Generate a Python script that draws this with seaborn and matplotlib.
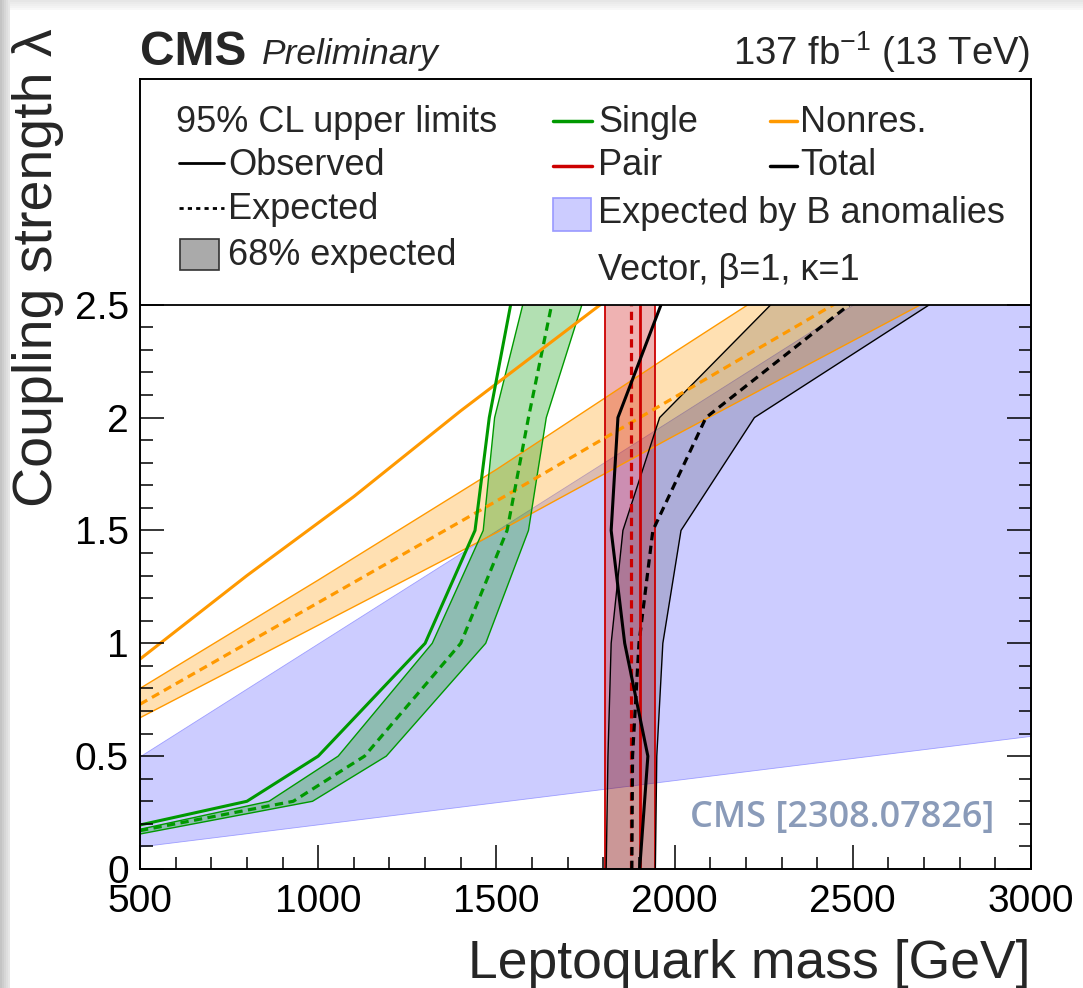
import numpy as np
import matplotlib
matplotlib.use("Agg")
import matplotlib.pyplot as plt
import seaborn as sns
from matplotlib.lines import Line2D
from matplotlib.patches import Rectangle
from matplotlib.ticker import MultipleLocator, FuncFormatter

# ---------------- data ----------------
banom_mass = [500, 3000]
banom_lo = [0.10, 0.59]
banom_hi = [0.50, 3.00]

nonres_obs_mass = [500, 800, 1100, 1400, 1800]
nonres_obs = [0.93, 1.30, 1.65, 2.03, 2.51]
nonres_exp_mass = [500, 1000, 1500, 2000, 2500, 3000]
nonres_exp = [0.73, 1.18, 1.63, 2.09, 2.55, 3.00]
nonres_lo = [0.67, 1.08, 1.49, 1.92, 2.34, 2.76]
nonres_hi = [0.80, 1.28, 1.77, 2.29, 2.80, 3.30]

single_obs_mass = [500, 800, 1000, 1300, 1440, 1480, 1540]
single_obs_lam = [0.195, 0.30, 0.50, 1.0, 1.5, 2.0, 2.5]
single_exp_mass = [500, 930, 1130, 1400, 1530, 1590, 1655]
single_exp_lam = [0.17, 0.30, 0.50, 1.0, 1.5, 2.0, 2.5]
single_up_mass = [500, 862, 1056, 1320, 1463, 1495, 1574]
single_up_lam = [0.176, 0.30, 0.50, 1.0, 1.5, 2.0, 2.5]
single_dn_mass = [500, 984, 1191, 1470, 1590, 1640, 1740]
single_dn_lam = [0.155, 0.30, 0.50, 1.0, 1.5, 2.0, 2.5]

pair_lam = [0.0, 2.5]
pair_obs = [1902, 1902]
pair_exp = [1878, 1878]
pair_lo = [1805, 1805]
pair_hi = [1946, 1946]

total_lam = [0.0, 0.5, 1.0, 1.5, 2.0, 2.5]
total_obs = [1902, 1925, 1860, 1822, 1841, 1962]
total_exp = [1880, 1882, 1900, 1939, 2088, 2490]
total_lo = [1808, 1813, 1822, 1855, 1958, 2270]
total_hi = [1946, 1950, 1967, 2018, 2224, 2715]

x_ticks = [500, 1000, 1500, 2000, 2500, 3000]
y_ticks = [0, 0.5, 1.0, 1.5, 2.0, 2.5]

# ---------------- style ----------------
sns.set_theme(style="white")
plt.rcParams['font.family'] = ['Liberation Sans', 'DejaVu Sans']
plt.rcParams['mathtext.fontset'] = 'custom'
plt.rcParams['mathtext.rm'] = 'Liberation Sans'
plt.rcParams['mathtext.it'] = 'Liberation Sans:italic'
plt.rcParams['mathtext.bf'] = 'Liberation Sans:bold'

GREEN = '#009900'
ORANGE = '#ff9900'
RED = '#cc0000'
BLACK = '#000000'
BLUE_FILL = (0, 0, 1, 0.2)
DASH = (0, (2.6, 1.7))

W, H = 1083, 988
def fx(x):
    return x / W
def fy(y):
    return 1 - y / H

fig = plt.figure(figsize=(W / 100, H / 100), dpi=100)
fig.patch.set_facecolor('white')
ax = fig.add_axes([fx(140), fy(869), (1031 - 140) / W, (869 - 79) / H])
ax.set_facecolor('white')

# B-anomaly region
ax.fill_between(banom_mass, banom_lo, banom_hi, facecolor=BLUE_FILL,
                edgecolor=(0.5, 0.5, 1.0, 0.7), linewidth=0.6, zorder=1)

# nonresonant band
ax.fill_between(nonres_exp_mass, nonres_lo, nonres_hi, facecolor=(1, 0.6, 0, 0.3),
                edgecolor='none', zorder=1.1)
# single band
ax.fill(np.r_[single_up_mass, single_dn_mass[::-1]],
        np.r_[single_up_lam, single_dn_lam[::-1]],
        facecolor=(0, 0.6, 0, 0.3), edgecolor='none', zorder=1.2)
# pair band
ax.fill_betweenx(pair_lam, pair_lo, pair_hi, facecolor=(0.8, 0, 0, 0.3),
                 edgecolor='none', zorder=1.3)
# total band
ax.fill_betweenx(total_lam, total_lo, total_hi, facecolor=(0, 0, 0, 0.15),
                 edgecolor='none', zorder=1.4)

def line(x, y, color, lw, ls='-', z=2):
    sns.lineplot(x=x, y=y, sort=False, estimator=None, color=color, linewidth=lw,
                 linestyle=ls, ax=ax, legend=False, zorder=z)

# band edges
line(nonres_exp_mass, nonres_lo, ORANGE, 1.0)
line(nonres_exp_mass, nonres_hi, ORANGE, 1.0)
line(single_up_mass, single_up_lam, GREEN, 1.0)
line(single_dn_mass, single_dn_lam, GREEN, 1.0)
line(pair_lo, pair_lam, RED, 1.3)
line(pair_hi, pair_lam, RED, 1.3)
line(total_lo, total_lam, BLACK, 1.0)
line(total_hi, total_lam, BLACK, 1.0)

# expected (dashed)
line(nonres_exp_mass, nonres_exp, ORANGE, 2.3, DASH, 3)
line(single_exp_mass, single_exp_lam, GREEN, 2.3, DASH, 3)
line(pair_exp, pair_lam, RED, 2.3, DASH, 3)
line(total_exp, total_lam, BLACK, 2.3, DASH, 3)

# observed (solid)
line(nonres_obs_mass, nonres_obs, ORANGE, 2.2, '-', 4)
line(single_obs_mass, single_obs_lam, GREEN, 2.2, '-', 4)
line(pair_obs, pair_lam, RED, 2.0, '-', 4)
line(total_obs, total_lam, BLACK, 2.2, '-', 4)

# legend area cover
ax.axhspan(2.5, 3.5, facecolor='white', edgecolor='none', zorder=10)
ax.axhline(2.5, color='black', linewidth=1.3, zorder=11)

ax.set_xlim(500, 3000)
ax.set_ylim(0, 3.5)
ax.set_xticks(x_ticks)
ax.set_yticks(y_ticks)
ax.xaxis.set_minor_locator(MultipleLocator(100))
ax.set_yticks(np.round(np.arange(0, 2.51, 0.1), 2), minor=True)
ax.yaxis.set_major_formatter(FuncFormatter(lambda v, p: f"{v:g}"))
ax.xaxis.set_major_formatter(FuncFormatter(lambda v, p: f"{v:g}"))
ax.tick_params(axis='both', which='both', direction='in', colors='black',
               labelsize=28, width=1.1)
ax.tick_params(axis='x', which='major', length=17, pad=11, top=False, bottom=True)
ax.tick_params(axis='x', which='minor', length=9, top=False, bottom=True)
ax.tick_params(axis='y', which='major', length=17, pad=8, left=True, right=True)
ax.tick_params(axis='y', which='minor', length=9, left=True, right=True)
ax.xaxis.set_zorder(15)
ax.yaxis.set_zorder(15)
for s in ax.spines.values():
    s.set_visible(True)
    s.set_color('black')
    s.set_linewidth(1.4)
    s.set_zorder(20)
ax.set_xlabel('')
ax.set_ylabel('')

# axis titles
fig.text(fx(1030), fy(978), 'Leptoquark mass [GeV]', ha='right', va='baseline',
         fontsize=38.5)
fig.text(fx(38), fy(28), 'Coupling strength λ', ha='center', va='top',
         rotation=90, fontsize=40)

# header
fig.text(fx(140), fy(65), 'CMS', ha='left', va='baseline', fontsize=34.5,
         fontweight='bold')
fig.text(fx(262), fy(64), 'Preliminary', ha='left', va='baseline', fontsize=25.5,
         fontstyle='italic')
fig.text(fx(1030), fy(65), '137 fb$^{-1}$ (13 TeV)', ha='right', va='baseline',
         fontsize=27.5)

# legend
LFS = 26
def ltext(x, y, s):
    fig.text(fx(x), fy(y), s, ha='left', va='baseline', fontsize=LFS, zorder=30)

def lline(x1, x2, y, color, lw, ls='-'):
    fig.add_artist(Line2D([fx(x1), fx(x2)], [fy(y), fy(y)], color=color,
                          linewidth=lw, linestyle=ls, transform=fig.transFigure,
                          zorder=30))

def lbox(x1, y1, x2, y2, face, edge):
    fig.add_artist(Rectangle((fx(x1), fy(y2)), (x2 - x1) / W, (y2 - y1) / H,
                             facecolor=face, edgecolor=edge, linewidth=1.2,
                             transform=fig.transFigure, zorder=30))

ltext(176, 132, '95% CL upper limits')
lline(179, 224, 163, BLACK, 2.0)
ltext(228, 175, 'Observed')
lline(179, 224, 208, BLACK, 2.0, (0, (1.5, 1.5)))
ltext(228, 219, 'Expected')
lbox(180, 239, 219, 270, '#aaaaaa', '#333333')
ltext(228, 265, '68% expected')

lline(553, 592, 121, GREEN, 2.5)
ltext(598, 132, 'Single')
lline(553, 592, 166, RED, 2.5)
ltext(598, 175, 'Pair')
lbox(553, 198, 591, 231, '#ccccff', '#9999ff')
ltext(598, 223, 'Expected by B anomalies')
ltext(598, 280, 'Vector, β=1, κ=1')

lline(770, 797, 121, ORANGE, 2.5)
ltext(800, 132, 'Nonres.')
lline(770, 797, 166, BLACK, 2.5)
ltext(800, 175, 'Total')

# reference tag
fig.text(fx(690), fy(827), 'CMS [2308.07826]', ha='left', va='baseline',
         fontsize=26, fontweight='semibold', color='#8a9bb9',
         family=['Open Sans', 'DejaVu Sans'], zorder=30)

# window shadow edges
greys_left = ['#c4c4c4', '#cdcdcd', '#d6d6d6', '#dedede', '#e6e6e6']
for i, g in enumerate(greys_left):
    fig.add_artist(Rectangle((fx(i * 2), 0), 2 / W, 1, facecolor=g, edgecolor='none',
                             transform=fig.transFigure, zorder=0))
greys_top = ['#e6e6e6', '#ebebeb', '#efefef', '#f3f3f3', '#f8f8f8']
for i, g in enumerate(greys_top):
    fig.add_artist(Rectangle((fx(10), fy((i + 1) * 2)), 1, 2 / H, facecolor=g,
                             edgecolor='none', transform=fig.transFigure, zorder=0))

fig.savefig('out.png', dpi=100)
